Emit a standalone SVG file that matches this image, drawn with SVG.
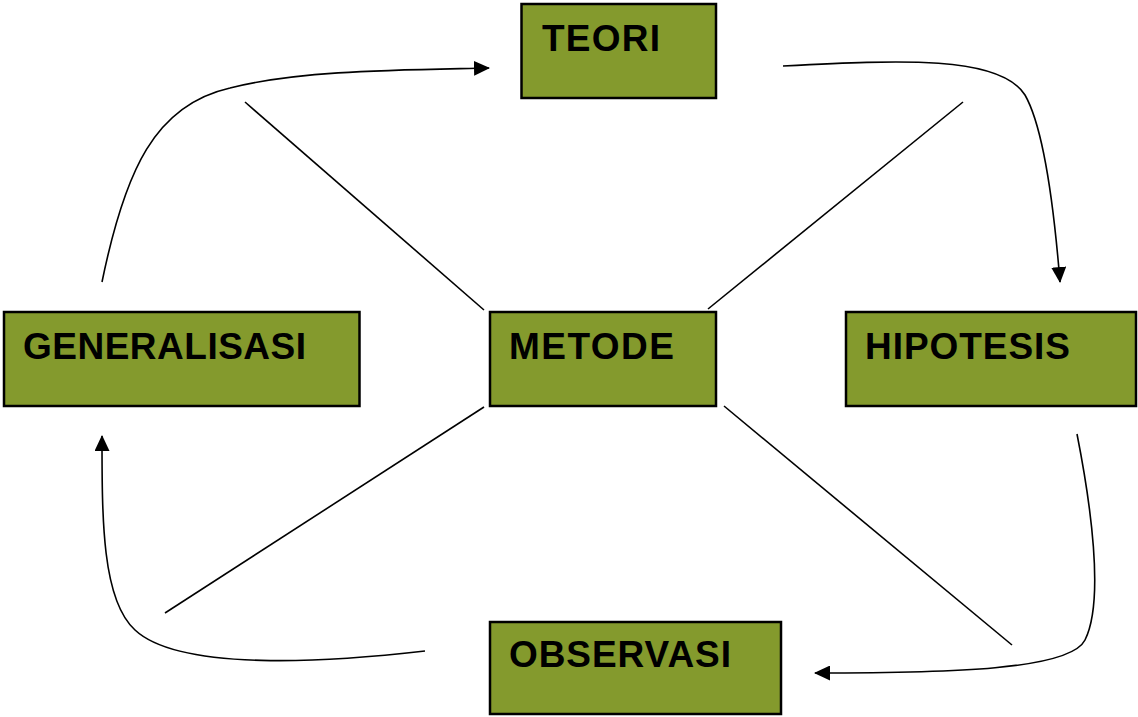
<svg xmlns="http://www.w3.org/2000/svg" width="1138" height="717" viewBox="0 0 1138 717">
<style>
.box{fill:#849A2D;stroke:#000;stroke-width:2.5}
.lbl{font-family:"Liberation Sans",Arial,sans-serif;font-weight:bold;font-size:37px;fill:#000}
.ln{fill:none;stroke:#000;stroke-width:1.6}
</style>
<defs>
<marker id="ah" markerUnits="userSpaceOnUse" markerWidth="16" markerHeight="15" refX="15" refY="7.5" orient="auto">
<path d="M0,0 L16,7.5 L0,15 z" fill="#000"/>
</marker>
</defs>
<rect width="1138" height="717" fill="#fff"/>
<g id="connectors">
<line class="ln" x1="245" y1="102" x2="484" y2="310"/>
<line class="ln" x1="963" y1="102" x2="708" y2="309"/>
<line class="ln" x1="484" y1="407" x2="165" y2="613"/>
<line class="ln" x1="724" y1="406" x2="1012" y2="645"/>
<path class="ln" marker-end="url(#ah)" d="M102,282 C125,170 155,105 230,88 C300,70 400,70 489,68"/>
<path class="ln" marker-end="url(#ah)" d="M783,66 C900,60 1000,55 1025,95 C1045,130 1055,220 1060,282"/>
<path class="ln" marker-end="url(#ah)" d="M1077,434 C1090,500 1105,600 1085,640 C1070,670 950,673 815,673"/>
<path class="ln" marker-end="url(#ah)" d="M425,651 C330,662 180,672 135,630 C102,600 102,520 102,436"/>
</g>
<g id="teori"><rect class="box" x="521.5" y="4" width="194.5" height="94"/><text class="lbl" x="542" y="51" textLength="118">TEORI</text></g>
<g id="generalisasi"><rect class="box" x="4" y="312" width="355.5" height="94"/><text class="lbl" x="23" y="359" textLength="283">GENERALISASI</text></g>
<g id="metode"><rect class="box" x="490" y="312" width="226" height="94"/><text class="lbl" x="509" y="359" textLength="165">METODE</text></g>
<g id="hipotesis"><rect class="box" x="846" y="312" width="290" height="94"/><text class="lbl" x="865" y="359" textLength="205">HIPOTESIS</text></g>
<g id="observasi"><rect class="box" x="490" y="622" width="291" height="92"/><text class="lbl" x="509" y="667" textLength="222">OBSERVASI</text></g>
</svg>
